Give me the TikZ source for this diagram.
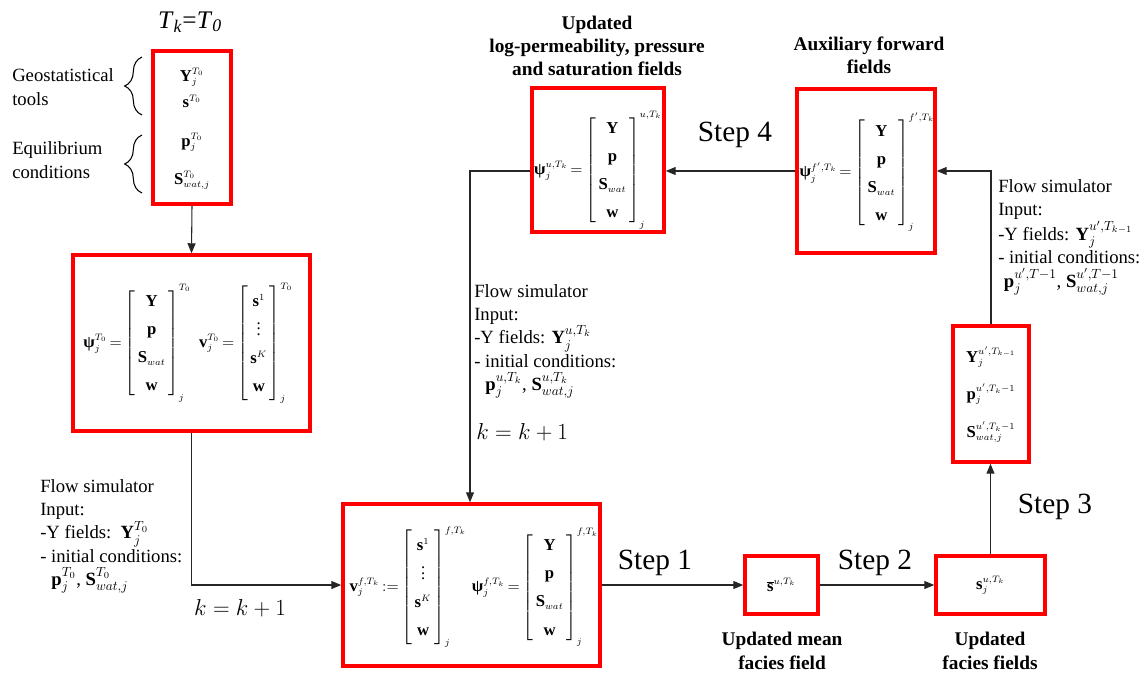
\documentclass[tikz,border=0pt]{standalone}
\usepackage{amsmath}
\usepackage{fontspec}
\setmainfont{Liberation Serif}
\usetikzlibrary{arrows.meta,decorations.pathreplacing}
\DeclareMathSizes{12.5}{12.5}{7}{5}
\newcommand{\colvec}[1]{\left[\begin{array}{@{\hspace{2pt}}c@{\hspace{2pt}}}#1\end{array}\right]}
\newcommand{\bpsi}{\text{\bfseries ψ}}
\newcommand{\matsp}{\thickmuskip=3mu plus 1mu\relax\medmuskip=2mu\relax}
\renewcommand{\arraystretch}{1.45}
\tikzset{
  redbox/.style={draw=red, line width=2.6pt, inner sep=0pt},
  conn/.style={draw=black!85, line width=0.8pt},
  arr/.style={conn, -{Triangle[length=7.5pt,width=6pt]}},
  txt/.style={font=\fontsize{14}{17.5}\selectfont, align=left, inner sep=0pt},
  head/.style={font=\bfseries\fontsize{14.5}{17.5}\selectfont, align=center, inner sep=0pt},
  steplbl/.style={font=\fontsize{22}{26}\selectfont, inner sep=0pt},
  kk/.style={font=\fontsize{18}{22}\selectfont, inner sep=0pt},
  mat/.style={font=\fontsize{12.5}{14.5}\selectfont\matsp, inner sep=0pt},
  brc/.style={draw=black, line width=0.8pt, decorate, decoration={brace, amplitude=13pt}},
}
\begin{document}
\begin{tikzpicture}[x=0.75pt,y=-0.75pt]
\useasboundingbox (0,0) rectangle (1146,672);

% boxes
\node[redbox, minimum width=58.5pt, minimum height=114.75pt] (A) at (192,127.5) {};
\node[redbox, minimum width=177.75pt, minimum height=132pt] (B) at (191.5,343) {};
\node[redbox, minimum width=192.75pt, minimum height=121.5pt] (C) at (471.5,585) {};
\node[redbox, minimum width=99pt, minimum height=108pt] (D) at (598,160) {};
\node[redbox, minimum width=103.5pt, minimum height=123pt] (E) at (866,171) {};
\node[redbox, minimum width=57pt, minimum height=102pt] (F) at (991,394) {};
\node[redbox, minimum width=54.75pt, minimum height=43.5pt] (G) at (781.5,585) {};
\node[redbox, minimum width=81.75pt, minimum height=43.5pt] (H) at (990.5,585) {};

% box contents
\node[mat] (a1) at (192,77) {$\mathbf{Y}_j^{T_0}$};
\node[mat] (a2) at (192,101) {$\mathbf{s}^{T_0}$};
\node[mat] (a3) at (192,142) {$\mathbf{p}_j^{T_0}$};
\node[mat] (a4) at (192,180) {$\mathbf{S}_{wat,j}^{T_0}$};

\node[mat] (Bc) at (188,343) {$\bpsi_j^{T_0}=\colvec{\mathbf{Y}\\ \mathbf{p}\\ \mathbf{S}_{wat}\\ \mathbf{w}}_j^{T_0}
  \;\, \mathbf{v}_j^{T_0}=\colvec{\mathbf{s}^1\\ \vdots\\ \mathbf{s}^K\\ \mathbf{w}}_j^{T_0}$};

\node[mat] (Cc) at (474,587) {$\mathbf{v}_j^{f,T_k}:=\colvec{\mathbf{s}^1\\ \vdots\\ \mathbf{s}^K\\ \mathbf{w}}_j^{f,T_k}
  \, \bpsi_j^{f,T_k}=\colvec{\mathbf{Y}\\ \mathbf{p}\\ \mathbf{S}_{wat}\\ \mathbf{w}}_j^{f,T_k}$};

\node[mat] (Dc) at (598,170) {$\bpsi_j^{u,T_k}=\colvec{\mathbf{Y}\\ \mathbf{p}\\ \mathbf{S}_{wat}\\ \mathbf{w}}_j^{u,T_k}$};

\node[mat] (Ec) at (867,172) {$\bpsi_j^{f',T_k}=\colvec{\mathbf{Y}\\ \mathbf{p}\\ \mathbf{S}_{wat}\\ \mathbf{w}}_j^{f',T_k}$};

\node[mat] (f1) at (991,357) {$\mathbf{Y}_j^{u',T_{k-1}}$};
\node[mat] (f2) at (991,394) {$\mathbf{p}_j^{u',T_k-1}$};
\node[mat] (f3) at (991,432) {$\mathbf{S}_{wat,j}^{u',T_k-1}$};

\node[mat] (Gc) at (781.5,585) {$\overline{\mathbf{s}}^{u,T_k}$};
\node[mat] (Hc) at (990.5,585) {$\mathbf{s}_j^{u,T_k}$};

% top-left labels
\node[font=\fontsize{19}{22}\selectfont, inner sep=0pt] (tk) at (190,22) {\textit{T}\textsubscript{\textit{k}}=\textit{T}\textsubscript{\textit{0}}};
\node[txt, anchor=west] (geo) at (12,87) {Geostatistical\\tools};
\node[txt, anchor=west] (equ) at (12,160) {Equilibrium\\conditions};
\draw[brc] (142,115) -- (142,57);
\draw[brc] (142,193) -- (142,135);

% headings
\node[head] (h1) at (597,46) {Updated\\log-permeability, pressure\\and saturation fields};
\node[head] (h2) at (869,55) {Auxiliary forward\\fields};
\node[head] (h3) at (782,651) {Updated mean\\facies field};
\node[head] (h4) at (990,651) {Updated\\facies fields};

% step labels
\node[steplbl] (s1) at (655,563) {Step 1};
\node[steplbl] (s2) at (875,563) {Step 2};
\node[steplbl] (s3) at (1055,507) {Step 3};
\node[steplbl] (s4) at (735,135) {Step 4};

% flow simulator texts
\node[txt, anchor=north west] (fl1) at (40,479) {Flow simulator\\Input:\\-Y fields:\ \ $\mathbf{Y}_j^{T_0}$\\- initial conditions:\\\hspace*{0.6em}$\mathbf{p}_j^{T_0}$, $\mathbf{S}_{wat,j}^{T_0}$};
\node[kk] (k1) at (240,608) {$k=k+1$};

\node[txt, anchor=north west] (fl2) at (474,284) {Flow simulator\\Input:\\-Y fields: $\mathbf{Y}_j^{u,T_k}$\\- initial conditions:\\\hspace*{0.6em}$\mathbf{p}_j^{u,T_k}$, $\mathbf{S}_{wat,j}^{u,T_k}$};
\node[kk, anchor=west] (k2) at (476,432) {$k=k+1$};

\node[txt, anchor=north west] (fl3) at (998,179) {Flow simulator\\Input:\\-Y fields: $\mathbf{Y}_j^{u',T_{k-1}}$\\- initial conditions:\\\hspace*{0.3em}$\mathbf{p}_j^{u',T-1}$, $\mathbf{S}_{wat,j}^{u',T-1}$};

% connectors
\draw[arr] (A.south) -- (B.north);
\draw[arr] (B.south) |- (C.west);
\draw[arr] (C.east) -- (G.west);
\draw[arr] (G.east) -- (H.west);
\draw[arr] (H.north) -- (H.north|-F.south);
\draw[arr] (F.north) |- (E.east);
\draw[arr] (E.west) -- (E.west-|D.east);
\coordinate (c1) at (470,171);
\draw[arr] (D.west|-c1) -- (c1) -- (c1|-C.north);
\end{tikzpicture}
\end{document}
